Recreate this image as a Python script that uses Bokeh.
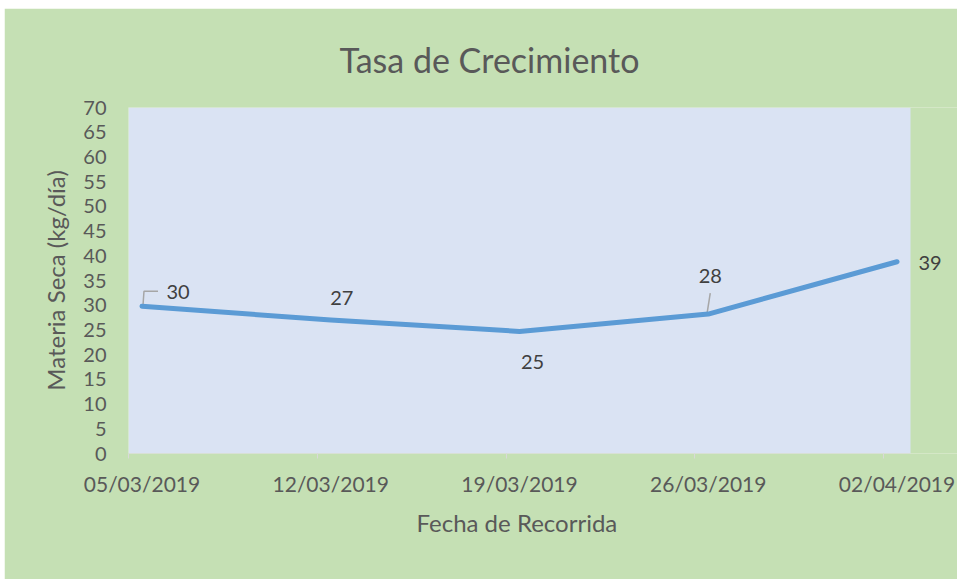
from datetime import datetime
from bokeh.plotting import figure
from bokeh.models import FixedTicker, Range1d, ColumnDataSource, Title
from bokeh.core.properties import value
from bokeh.embed import file_html
from bokeh.resources import INLINE

# ---- data ----
dates = ["05/03/2019", "12/03/2019", "19/03/2019", "26/03/2019", "02/04/2019"]
values = [29.8, 27.0, 24.7, 28.2, 38.8]
y_ticks = list(range(0, 75, 5))
title = "Tasa de Crecimiento"
x_title = "Fecha de Recorrida"
y_title = "Materia Seca (kg/día)"

# ---- derived ----
d0 = datetime.strptime(dates[0], "%d/%m/%Y")
day_idx = [(datetime.strptime(d, "%d/%m/%Y") - d0).days for d in dates]
xs = [d + 0.5 for d in day_idx]  # date axis, points centred in each day slot
labels = [str(round(v)) for v in values]

FONT = "Lato"
GREEN = "#c5e0b4"
W, H = 953, 571
ML, MT, MB = 124, 99, 126
AREA_W = 782                      # width of the light-blue plot area
FW, FH = W - ML, H - MT - MB      # frame runs to the right edge so outer labels show
x_max = day_idx[-1] + 1
px_x = AREA_W / x_max
x_end = FW / px_x
px_y = FH / 70.0

# label offsets in screen px (style)
lab_dx = [36, 11, 13, 2, 33]
lab_dy = [-14, -22, 31, -38, 1]

p = figure(width=W, height=H, x_range=Range1d(0, x_end), y_range=Range1d(0, 70),
           output_backend="svg", toolbar_location=None,
           min_border_left=ML, min_border_right=0, min_border_top=MT, min_border_bottom=MB)
p.styles = {"margin-left": "4px", "margin-top": "8px"}
p.background_fill_color = GREEN
p.border_fill_color = GREEN
p.outline_line_color = None
p.xgrid.visible = False
p.ygrid.visible = False

# title (left-aligned with an offset so it sits centred over the whole chart)
p.title.text = title
p.title.align = "left"
p.title.offset = 211
p.title.text_font = FONT
p.title.text_font_size = "34px"
p.title.text_font_style = "normal"
p.title.text_color = "#595959"
p.title.standoff = 56

# plot area
p.quad(left=0, right=x_max, bottom=0, top=70, fill_color="#dae3f3", line_color=None)
p.line([0, x_max], [0, 0], line_color="#d9d9d9", line_width=1.2)

# x axis
p.xaxis.ticker = FixedTicker(ticks=xs, minor_ticks=day_idx)
p.xaxis.major_label_overrides = {x: d for x, d in zip(xs, dates)}
p.xaxis.axis_line_color = None
p.xaxis.major_tick_line_color = None
p.xaxis.major_tick_out = 0
p.xaxis.major_tick_in = 0
p.xaxis.minor_tick_line_color = "#d9d9d9"
p.xaxis.minor_tick_out = 5
p.xaxis.minor_tick_in = 0
p.xaxis.major_label_standoff = 12
p.xaxis.major_label_text_font = FONT
p.xaxis.major_label_text_font_size = "21px"
p.xaxis.major_label_text_color = "#595959"

# x axis title, centred under the plot area
p.add_layout(Title(text=x_title, align="left", offset=288, text_font=FONT,
                   text_font_size="24px", text_font_style="normal",
                   text_color="#595959", standoff=15), "below")

# y axis
p.yaxis.ticker = FixedTicker(ticks=y_ticks, minor_ticks=[])
p.yaxis.axis_line_color = None
p.yaxis.major_tick_line_color = None
p.yaxis.major_tick_out = 0
p.yaxis.major_tick_in = 0
p.yaxis.major_label_standoff = 22
p.yaxis.major_label_text_font = FONT
p.yaxis.major_label_text_font_size = "20px"
p.yaxis.major_label_text_color = "#595959"
p.yaxis.axis_label = y_title
p.yaxis.axis_label_text_font = FONT
p.yaxis.axis_label_text_font_size = "24px"
p.yaxis.axis_label_text_font_style = "normal"
p.yaxis.axis_label_text_color = "#595959"
p.yaxis.axis_label_standoff = 10

# leader lines (screen px offsets from point)
leaders = {0: [(1, -1), (2, -15), (16, -15)], 3: [(-1, -2), (2, -21)]}
for i, pts in leaders.items():
    lx = [xs[i] + dx / px_x for dx, dy in pts]
    ly = [values[i] - dy / px_y for dx, dy in pts]
    p.line(lx, ly, line_color="#a6a6a6", line_width=1.5)

src = ColumnDataSource(dict(x=xs, y=values, lab=labels, dx=lab_dx, dy=lab_dy))
p.line("x", "y", source=src, line_color="#5b9bd5", line_width=5,
       line_cap="round", line_join="round")
p.text("x", "y", text="lab", x_offset="dx", y_offset="dy", source=src,
       text_font=value(FONT), text_font_size="20px", text_color="#404040",
       text_align="center", text_baseline="middle")

open("out.html", "w").write(file_html(p, INLINE))
